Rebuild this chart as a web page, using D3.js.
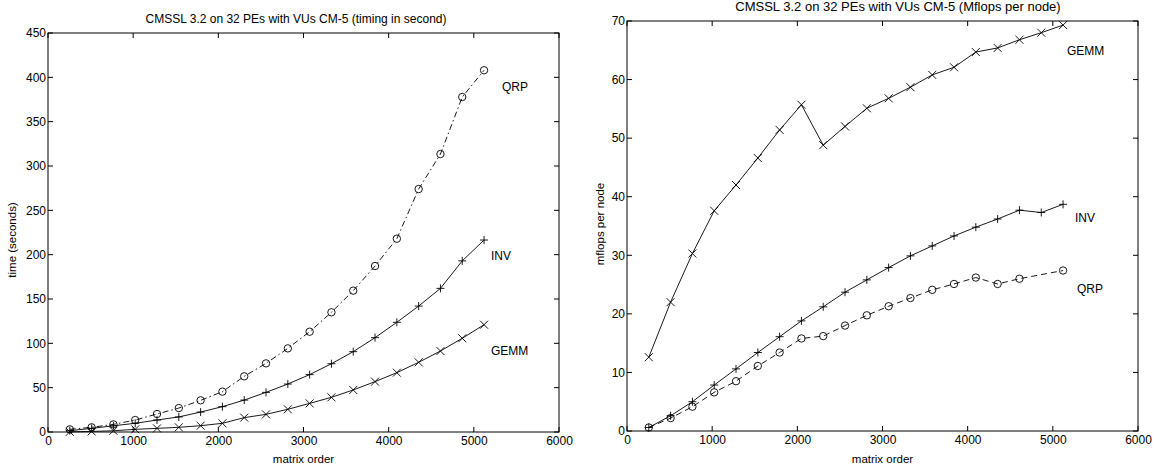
<!DOCTYPE html>
<html><head><meta charset="utf-8">
<script src="https://cdn.jsdelivr.net/npm/d3@7"></script>
<style>
body{margin:0;background:#fff;}
svg{display:block;}
text{font-family:"Liberation Sans",Arial,Helvetica,sans-serif;fill:#000;}
</style></head><body>
<svg id="c" width="1167" height="470"></svg>
<script>
const matrixOrder = [256,512,768,1024,1280,1536,1792,2048,2304,2560,2816,3072,3328,3584,3840,4096,4352,4608,4864,5120];
// timing (seconds)
const timeQRP  = [3.0,5.3,8.6,13.5,20.3,27,35.7,45.5,62.8,77.4,94.3,113.1,135,159.4,187.2,218,274,313.5,377.8,408];
const timeINV  = [1.5,4.1,7,9.8,13.5,17,22.5,28.6,36,44.7,54.1,64.7,77,90.6,106.4,123.7,142,162,193,216.5];
const timeGEMM = [0.2,0.6,1.4,3,4.1,5.3,7.1,9.8,16.2,19.9,25.6,32.3,39.1,47.4,56.8,66.9,78.6,91.3,105.7,121];
// Mflops per node
const mfGEMM = [12.6,22.0,30.3,37.6,42.0,46.6,51.4,55.7,48.8,52.0,55.1,56.8,58.7,60.8,62.1,64.7,65.4,66.8,68.0,69.3];
const mfINV  = [0.6,2.6,5.0,7.85,10.6,13.4,16.1,18.8,21.2,23.7,25.8,27.9,29.9,31.6,33.3,34.8,36.2,37.7,37.3,38.7];
const mfQRPOrder = [256,512,768,1024,1280,1536,1792,2048,2304,2560,2816,3072,3328,3584,3840,4096,4352,4608,5120];
const mfQRP  = [0.6,2.2,4.15,6.6,8.5,11.1,13.4,15.8,16.2,18.0,19.75,21.3,22.7,24.1,25.1,26.2,25.1,26.0,27.4];

const xTicks = [0,1000,2000,3000,4000,5000,6000];
const yTicksTime = [0,50,100,150,200,250,300,350,400,450];
const yTicksMf = [0,10,20,30,40,50,60,70];

const svg = d3.select("#c");

function marker(g, type, x, y){
  const s = 4;
  if(type==="o"){
    g.append("circle").attr("cx",x).attr("cy",y).attr("r",3.7).attr("fill","none").attr("stroke","#000").attr("stroke-width",0.9);
  } else if(type==="+"){
    g.append("path").attr("d",`M${x-s},${y}H${x+s}M${x},${y-s}V${y+s}`).attr("stroke","#000").attr("stroke-width",0.9);
  } else {
    g.append("path").attr("d",`M${x-s},${y-s}L${x+s},${y+s}M${x-s},${y+s}L${x+s},${y-s}`).attr("stroke","#000").attr("stroke-width",0.9);
  }
}

function panel(o){
  const g = svg.append("g");
  const x = d3.scaleLinear().domain([0,6000]).range([o.x0,o.x1]);
  const y = d3.scaleLinear().domain([0,o.ymax]).range([o.y0,o.y1]);
  g.append("rect").attr("x",o.x0).attr("y",o.y1).attr("width",o.x1-o.x0).attr("height",o.y0-o.y1)
    .attr("fill","none").attr("stroke","#000").attr("stroke-width",1);
  const tl = 5;
  const ax = d3.axisBottom(x).tickValues(xTicks).tickSize(0).tickPadding(4).tickFormat(d3.format("d"));
  const gx = g.append("g").attr("transform",`translate(0,${o.y0})`).call(ax);
  gx.select(".domain").remove();
  gx.selectAll("text").attr("font-size",12).attr("dy","0.75em");
  const ay = d3.axisLeft(y).tickValues(o.yTicks).tickSize(0).tickPadding(2).tickFormat(d3.format("d"));
  const gy = g.append("g").attr("transform",`translate(${o.x0},0)`).call(ay);
  gy.select(".domain").remove();
  gy.selectAll("text").attr("font-size",12);
  xTicks.forEach(t=>{
    const px = x(t);
    g.append("line").attr("x1",px).attr("x2",px).attr("y1",o.y0).attr("y2",o.y0-tl).attr("stroke","#000");
    g.append("line").attr("x1",px).attr("x2",px).attr("y1",o.y1).attr("y2",o.y1+tl).attr("stroke","#000");
  });
  o.yTicks.forEach(t=>{
    const py = y(t);
    g.append("line").attr("x1",o.x0).attr("x2",o.x0+tl).attr("y1",py).attr("y2",py).attr("stroke","#000");
    g.append("line").attr("x1",o.x1).attr("x2",o.x1-tl).attr("y1",py).attr("y2",py).attr("stroke","#000");
  });
  o.series.forEach(s=>{
    const pts = s.xs.map((v,i)=>[x(v),y(s.ys[i])]);
    g.append("path").attr("d",d3.line()(pts)).attr("fill","none").attr("stroke","#000")
      .attr("stroke-width",0.9).attr("stroke-dasharray",s.dash||null);
    pts.forEach(p=>marker(g,s.m,p[0],p[1]));
    g.append("text").attr("x",s.lx).attr("y",s.ly).attr("font-size",12).attr("dominant-baseline","middle").text(s.label);
  });
  g.append("text").attr("x",o.tx).attr("y",o.ty).attr("text-anchor","middle").attr("font-size",o.tfs).text(o.title);
  g.append("text").attr("x",(o.x0+o.x1)/2).attr("y",463).attr("text-anchor","middle").attr("font-size",11.5).text("matrix order");
  g.append("text").attr("transform",`translate(${o.ylx},${o.yly}) rotate(-90)`).attr("text-anchor","middle").attr("font-size",11.5).text(o.ylabel);
}

panel({x0:48,x1:559,y0:432,y1:33,ymax:450,yTicks:yTicksTime,
  title:"CMSSL 3.2 on 32 PEs with VUs CM-5 (timing in second)", tx:296, ty:23, tfs:12,
  ylabel:"time (seconds)", ylx:16, yly:240,
  series:[
    {xs:matrixOrder, ys:timeQRP, m:"o", dash:"6,3,1.5,3", label:"QRP", lx:502, ly:88},
    {xs:matrixOrder, ys:timeINV, m:"+", label:"INV", lx:491, ly:257},
    {xs:matrixOrder, ys:timeGEMM, m:"x", label:"GEMM", lx:491, ly:352}
  ]});

panel({x0:627,x1:1138,y0:431,y1:21,ymax:70,yTicks:yTicksMf,
  title:"CMSSL 3.2 on 32 PEs with VUs CM-5 (Mflops per node)", tx:898, ty:11, tfs:13,
  ylabel:"mflops per node", ylx:604, yly:224,
  series:[
    {xs:matrixOrder, ys:mfGEMM, m:"x", label:"GEMM", lx:1067, ly:52},
    {xs:matrixOrder, ys:mfINV, m:"+", label:"INV", lx:1075, ly:219},
    {xs:mfQRPOrder, ys:mfQRP, m:"o", dash:"6,4", label:"QRP", lx:1077, ly:290}
  ]});
</script>
</body></html>
